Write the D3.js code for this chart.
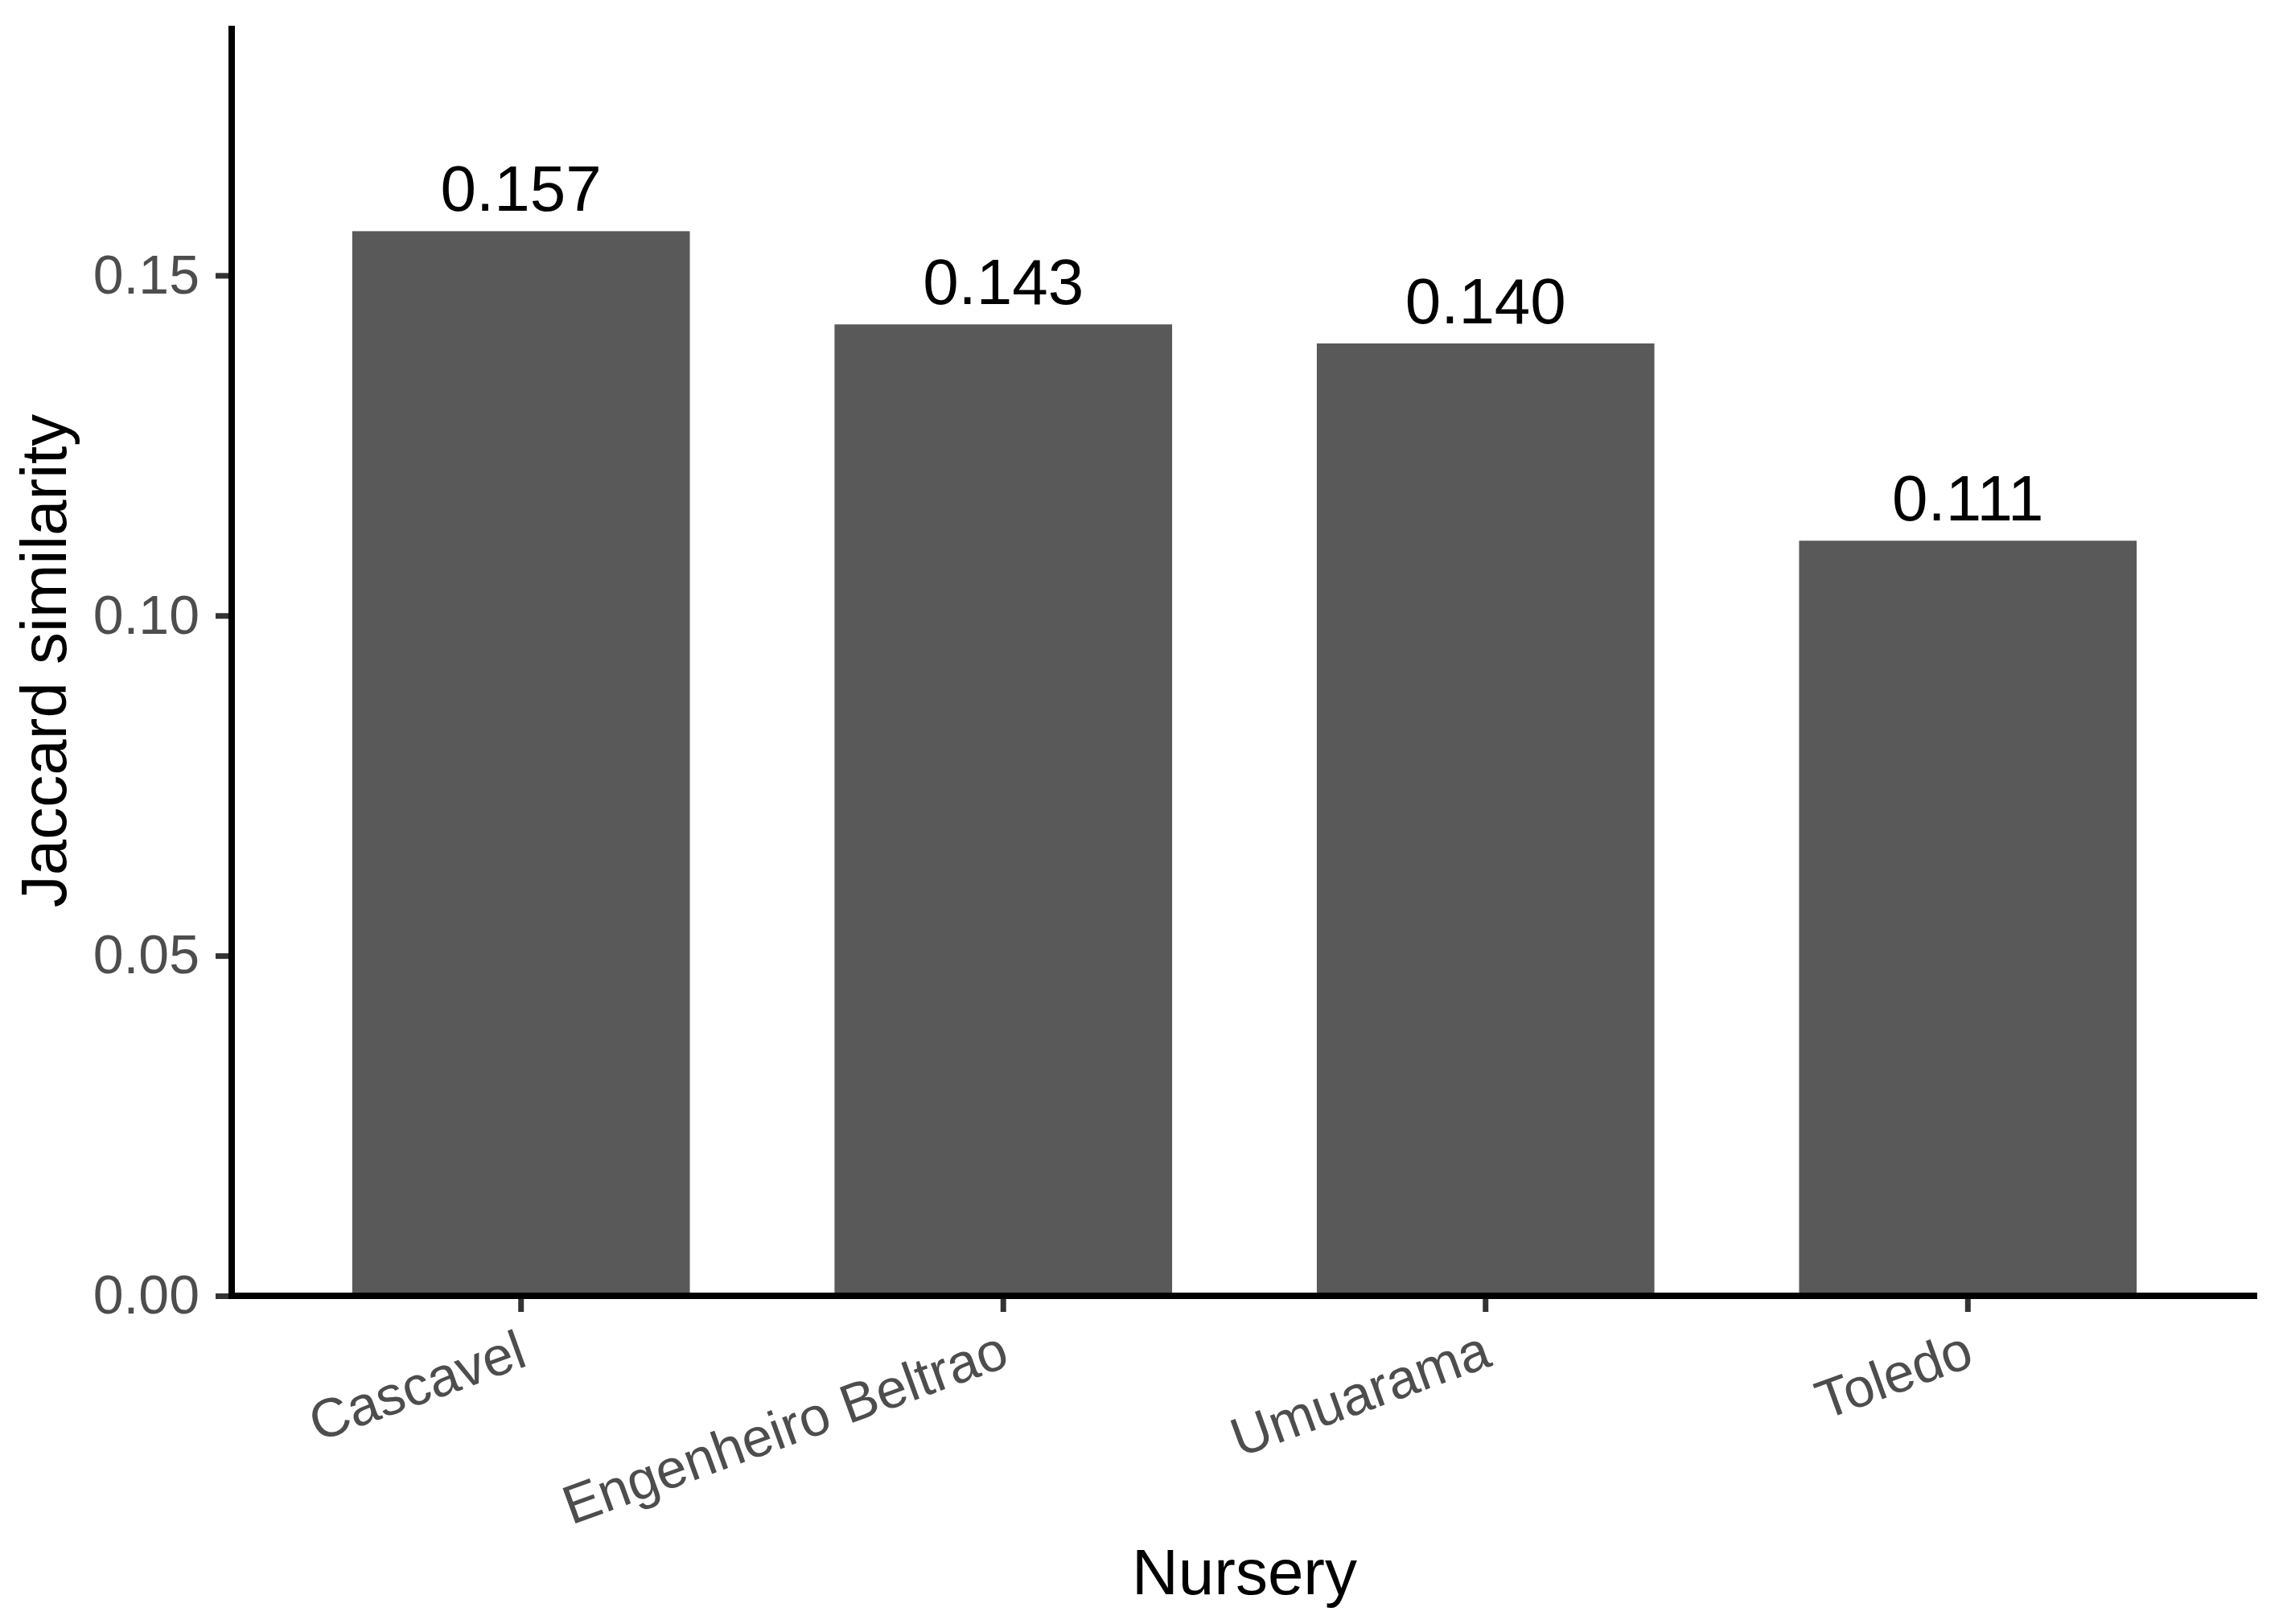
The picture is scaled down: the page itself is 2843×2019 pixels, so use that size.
<!DOCTYPE html>
<html lang="en">
<head>
    <meta charset="utf-8" />
    <title>Jaccard similarity by nursery</title>
    <script src="https://d3js.org/d3.v7.min.js"></script>
    <style>
        body { margin: 0; background: #fff; }
        text { font-family: "Liberation Sans", Arial, sans-serif; }
    </style>
</head>
<body>
    <script>
        var nurseries = ["Cascavel", "Engenheiro Beltrao", "Umuarama", "Toledo"];
        var similarity = [0.1565, 0.1428, 0.1400, 0.1110];
        var valueLabels = ["0.157", "0.143", "0.140", "0.111"];
        var yTicks = [0, 0.05, 0.10, 0.15];

        var w = 2843, h = 2019;
        var plotLeft = 288, plotRight = 2806, plotTop = 32, plotBottom = 1611;

        var svg = d3.select("body").append("svg")
            .attr("width", w)
            .attr("height", h);

        var x = d3.scaleBand()
            .domain(nurseries)
            .range([plotLeft, plotRight])
            .paddingInner(0.3)
            .paddingOuter(0.25);

        var y = d3.scaleLinear()
            .domain([0, 0.1867])
            .range([plotBottom, plotTop]);

        // bars
        svg.selectAll("rect.bar")
            .data(similarity)
            .enter()
            .append("rect")
            .attr("class", "bar")
            .attr("x", function (d, i) { return x(nurseries[i]); })
            .attr("y", function (d) { return y(d); })
            .attr("width", x.bandwidth())
            .attr("height", function (d) { return plotBottom - y(d); })
            .attr("fill", "#595959");

        // value labels
        svg.selectAll("text.value")
            .data(similarity)
            .enter()
            .append("text")
            .attr("class", "value")
            .attr("x", function (d, i) { return x(nurseries[i]) + x.bandwidth() / 2; })
            .attr("y", function (d) { return y(d) - 25; })
            .attr("text-anchor", "middle")
            .attr("font-size", "80px")
            .attr("fill", "#000")
            .text(function (d, i) { return valueLabels[i]; });

        // y axis
        var yAxis = svg.append("g")
            .attr("transform", "translate(" + plotLeft + ",0)")
            .call(d3.axisLeft(y)
                .tickValues(yTicks)
                .tickFormat(d3.format(".2f"))
                .tickSize(20)
                .tickPadding(20));
        yAxis.select(".domain").remove();
        yAxis.selectAll(".tick line").attr("stroke", "#333").attr("stroke-width", 7);
        yAxis.selectAll(".tick text")
            .attr("font-size", "68px")
            .attr("fill", "#4D4D4D")
            .attr("font-family", "Liberation Sans, Arial, sans-serif");

        // x axis
        var xAxis = svg.append("g")
            .attr("transform", "translate(0," + plotBottom + ")")
            .call(d3.axisBottom(x).tickSize(20).tickSizeOuter(0));
        xAxis.select(".domain").remove();
        xAxis.selectAll(".tick line").attr("stroke", "#333").attr("stroke-width", 7);
        xAxis.selectAll(".tick text")
            .attr("font-size", "68px")
            .attr("fill", "#4D4D4D")
            .attr("font-family", "Liberation Sans, Arial, sans-serif")
            .attr("text-anchor", "end")
            .attr("dy", null)
            .attr("y", null)
            .attr("transform", "translate(10,86) rotate(-20)");

        // axis lines
        svg.append("line")
            .attr("x1", plotLeft).attr("x2", plotLeft)
            .attr("y1", plotTop).attr("y2", plotBottom + 4)
            .attr("stroke", "#000").attr("stroke-width", 8);
        svg.append("line")
            .attr("x1", plotLeft - 4).attr("x2", plotRight)
            .attr("y1", plotBottom).attr("y2", plotBottom)
            .attr("stroke", "#000").attr("stroke-width", 8);

        // axis titles
        svg.append("text")
            .attr("x", (plotLeft + plotRight) / 2)
            .attr("y", 1982)
            .attr("text-anchor", "middle")
            .attr("font-size", "80px")
            .attr("fill", "#000")
            .text("Nursery");

        svg.append("text")
            .attr("transform", "translate(82," + ((plotTop + plotBottom) / 2) + ") rotate(-90)")
            .attr("text-anchor", "middle")
            .attr("font-size", "80px")
            .attr("fill", "#000")
            .text("Jaccard similarity");
    </script>
</body>
</html>
